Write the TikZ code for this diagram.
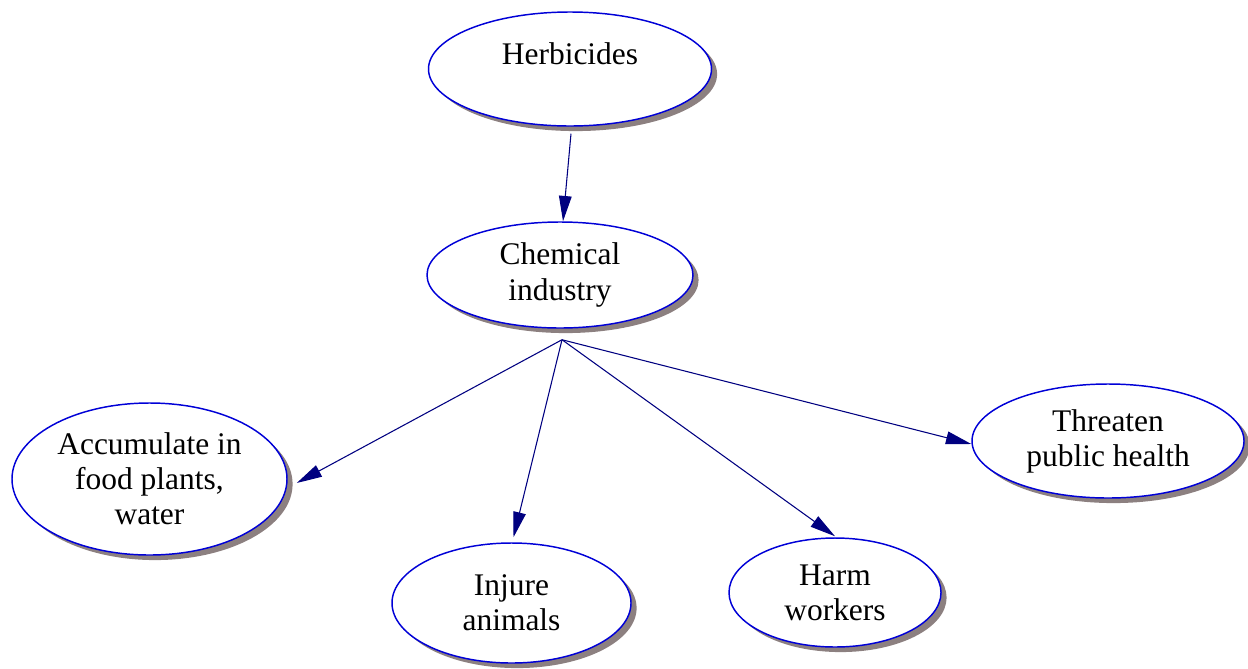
\documentclass[tikz,border=0pt]{standalone}
\usepackage{fontspec}
\setmainfont{Liberation Serif}
\newfontfamily\labelfont{Liberation Serif}
\usetikzlibrary{shapes.geometric,arrows.meta,shadows,calc}
\definecolor{rimblue}{RGB}{0,0,215}
\definecolor{arrownavy}{RGB}{0,0,128}
\definecolor{shadowcol}{RGB}{140,128,128}
\begin{document}
\begin{tikzpicture}[x=0.75pt,y=-0.75pt,
  concept/.style 2 args={ellipse, draw=rimblue, line width=1.1pt, fill=white,
    inner sep=0pt, align=center,
    minimum width=#1*1.5pt, minimum height=#2*1.5pt,
    font=\labelfont\fontsize{23.6pt}{26.3pt}\selectfont,
    drop shadow={shadow xshift=4.2pt, shadow yshift=-3.8pt, fill=shadowcol, opacity=1}},
  caption/.style={inner sep=0pt, align=center, font=\labelfont\fontsize{23.6pt}{26.3pt}\selectfont},
  link/.style={draw=arrownavy, line width=0.8pt,
    -{Triangle[length=19pt,width=9.5pt,fill=arrownavy]}}]
  \useasboundingbox (0,0) rectangle (1248,668);

  % concepts
  \node[concept={141.5}{57}] (herb) at (570,69) {};
  \node[caption] (herbtext) at (570,54) {Herbicides};
  \node[concept={133}{53}] (chem) at (560,275) {Chemical\\industry};
  \node[concept={137.5}{76}] (acc) at (149.5,479) {Accumulate in\\food plants,\\water};
  \node[concept={119.5}{60}] (inj) at (511.5,603) {Injure\\animals};
  \node[concept={106}{54.5}] (harm) at (835,592.5) {Harm\\workers};
  \node[concept={136}{57}] (thr) at (1108,441) {Threaten\\public health};

  % links
  \coordinate (hub) at ($(chem.south)+(2,11)$);
  \draw[link] ($(herb.south)+(1,7)$) -- ($(chem.north)+(3,0)$);
  \draw[link] (hub) -- ($(acc.east)+(9,4)$);
  \draw[link] (hub) -- ($(inj.north)+(2,-5)$);
  \draw[link] (hub) -- ($(harm.north)+(0,-1)$);
  \draw[link] (hub) -- ($(thr.west)+(0,3)$);
\end{tikzpicture}
\end{document}
